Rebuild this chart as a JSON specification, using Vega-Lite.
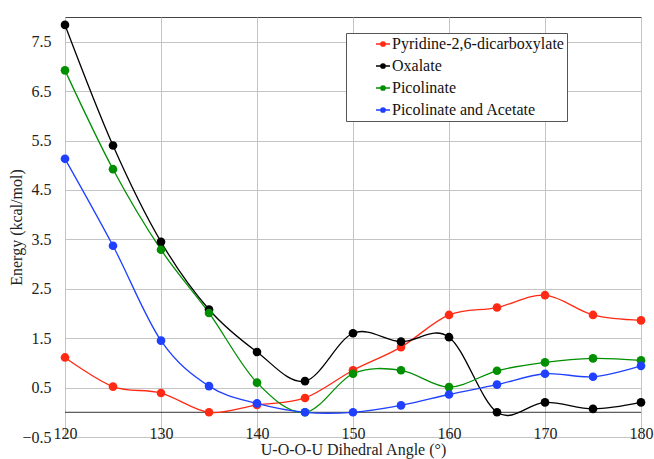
{
  "$schema": "https://vega.github.io/schema/vega-lite/v6.json",
  "width": 576,
  "height": 420,
  "autosize": {"type": "none"},
  "padding": {"left": 65, "top": 17, "right": 13, "bottom": 22},
  "background": "white",
  "config": {
    "font": "Liberation Serif",
    "view": {"stroke": "#444", "strokeWidth": 1},
    "axis": {"labelFont": "Liberation Serif", "titleFont": "Liberation Serif", "labelColor": "#222", "titleColor": "#222", "titleFontWeight": "normal", "gridColor": "#c4c4c4", "gridWidth": 1, "domain": false, "ticks": false},
    "legend": {"labelFont": "Liberation Serif"}
  },
  "layer": [
    {
      "data": {"values": [{"zero": 0}]},
      "mark": {"type": "rule", "color": "#333", "strokeWidth": 1},
      "encoding": {"y": {"field": "zero", "type": "quantitative"}}
    },
    {
      "data": {"values": [
        {"angle": 120, "energy": 1.11, "series": "Pyridine-2,6-dicarboxylate"},
        {"angle": 125, "energy": 0.52, "series": "Pyridine-2,6-dicarboxylate"},
        {"angle": 130, "energy": 0.39, "series": "Pyridine-2,6-dicarboxylate"},
        {"angle": 135, "energy": 0.0, "series": "Pyridine-2,6-dicarboxylate"},
        {"angle": 140, "energy": 0.15, "series": "Pyridine-2,6-dicarboxylate"},
        {"angle": 145, "energy": 0.29, "series": "Pyridine-2,6-dicarboxylate"},
        {"angle": 150, "energy": 0.85, "series": "Pyridine-2,6-dicarboxylate"},
        {"angle": 155, "energy": 1.32, "series": "Pyridine-2,6-dicarboxylate"},
        {"angle": 160, "energy": 1.97, "series": "Pyridine-2,6-dicarboxylate"},
        {"angle": 165, "energy": 2.12, "series": "Pyridine-2,6-dicarboxylate"},
        {"angle": 170, "energy": 2.37, "series": "Pyridine-2,6-dicarboxylate"},
        {"angle": 175, "energy": 1.97, "series": "Pyridine-2,6-dicarboxylate"},
        {"angle": 180, "energy": 1.86, "series": "Pyridine-2,6-dicarboxylate"},
        {"angle": 120, "energy": 7.84, "series": "Oxalate"},
        {"angle": 125, "energy": 5.4, "series": "Oxalate"},
        {"angle": 130, "energy": 3.45, "series": "Oxalate"},
        {"angle": 135, "energy": 2.08, "series": "Oxalate"},
        {"angle": 140, "energy": 1.22, "series": "Oxalate"},
        {"angle": 145, "energy": 0.63, "series": "Oxalate"},
        {"angle": 150, "energy": 1.6, "series": "Oxalate"},
        {"angle": 155, "energy": 1.43, "series": "Oxalate"},
        {"angle": 160, "energy": 1.52, "series": "Oxalate"},
        {"angle": 165, "energy": 0.0, "series": "Oxalate"},
        {"angle": 170, "energy": 0.2, "series": "Oxalate"},
        {"angle": 175, "energy": 0.07, "series": "Oxalate"},
        {"angle": 180, "energy": 0.2, "series": "Oxalate"},
        {"angle": 120, "energy": 6.92, "series": "Picolinate"},
        {"angle": 125, "energy": 4.92, "series": "Picolinate"},
        {"angle": 130, "energy": 3.29, "series": "Picolinate"},
        {"angle": 135, "energy": 2.01, "series": "Picolinate"},
        {"angle": 140, "energy": 0.6, "series": "Picolinate"},
        {"angle": 145, "energy": 0.0, "series": "Picolinate"},
        {"angle": 150, "energy": 0.78, "series": "Picolinate"},
        {"angle": 155, "energy": 0.85, "series": "Picolinate"},
        {"angle": 160, "energy": 0.51, "series": "Picolinate"},
        {"angle": 165, "energy": 0.84, "series": "Picolinate"},
        {"angle": 170, "energy": 1.01, "series": "Picolinate"},
        {"angle": 175, "energy": 1.09, "series": "Picolinate"},
        {"angle": 180, "energy": 1.05, "series": "Picolinate"},
        {"angle": 120, "energy": 5.13, "series": "Picolinate and Acetate"},
        {"angle": 125, "energy": 3.37, "series": "Picolinate and Acetate"},
        {"angle": 130, "energy": 1.45, "series": "Picolinate and Acetate"},
        {"angle": 135, "energy": 0.53, "series": "Picolinate and Acetate"},
        {"angle": 140, "energy": 0.18, "series": "Picolinate and Acetate"},
        {"angle": 145, "energy": 0.0, "series": "Picolinate and Acetate"},
        {"angle": 150, "energy": 0.0, "series": "Picolinate and Acetate"},
        {"angle": 155, "energy": 0.14, "series": "Picolinate and Acetate"},
        {"angle": 160, "energy": 0.36, "series": "Picolinate and Acetate"},
        {"angle": 165, "energy": 0.56, "series": "Picolinate and Acetate"},
        {"angle": 170, "energy": 0.78, "series": "Picolinate and Acetate"},
        {"angle": 175, "energy": 0.72, "series": "Picolinate and Acetate"},
        {"angle": 180, "energy": 0.94, "series": "Picolinate and Acetate"}
      ]},
      "mark": {"type": "line", "interpolate": "cardinal", "tension": 0, "strokeWidth": 1.3, "point": {"filled": true, "size": 75, "opacity": 1}},
      "encoding": {
        "x": {"field": "angle", "type": "quantitative", "scale": {"domain": [120, 180], "nice": false, "zero": false},
          "axis": {"values": [120, 130, 140, 150, 160, 170, 180], "title": "U-O-O-U Dihedral Angle (°)", "labelFontSize": 16, "titleFontSize": 16, "labelPadding": -12, "titleY": 17, "titleBaseline": "alphabetic", "labelFlush": false}},
        "y": {"field": "energy", "type": "quantitative", "scale": {"domain": [-0.5, 8.0], "nice": false, "zero": false},
          "axis": {"values": [-0.5, 0.5, 1.5, 2.5, 3.5, 4.5, 5.5, 6.5, 7.5], "format": ".1f", "title": "Energy (kcal/mol)", "labelFontSize": 16, "titleFontSize": 16, "labelPadding": 14, "titlePadding": -3}},
        "color": {"field": "series", "type": "nominal",
          "scale": {"domain": ["Pyridine-2,6-dicarboxylate", "Oxalate", "Picolinate", "Picolinate and Acetate"], "range": ["#ff2a14", "#000000", "#008f00", "#1f40ff"]},
          "legend": {"title": null, "orient": "none", "legendX": 281, "legendY": 16, "padding": 3, "fillColor": "white", "strokeColor": "#555", "labelFont": "Liberation Serif", "labelFontSize": 16, "labelColor": "#111", "symbolOffset": 26, "symbolType": "M-1,0L1,0M-0.3,0A0.3,0.3 0 1,1 0.3,0A0.3,0.3 0 1,1 -0.3,0Z", "symbolSize": 196, "symbolStrokeWidth": 1.5, "labelOffset": 1, "rowPadding": 6, "labelLimit": 300,
            "encode": {"symbols": {"update": {"fill": {"scale": "color", "field": "value"}, "stroke": {"scale": "color", "field": "value"}}}}}
        }
      }
    }
  ]
}
